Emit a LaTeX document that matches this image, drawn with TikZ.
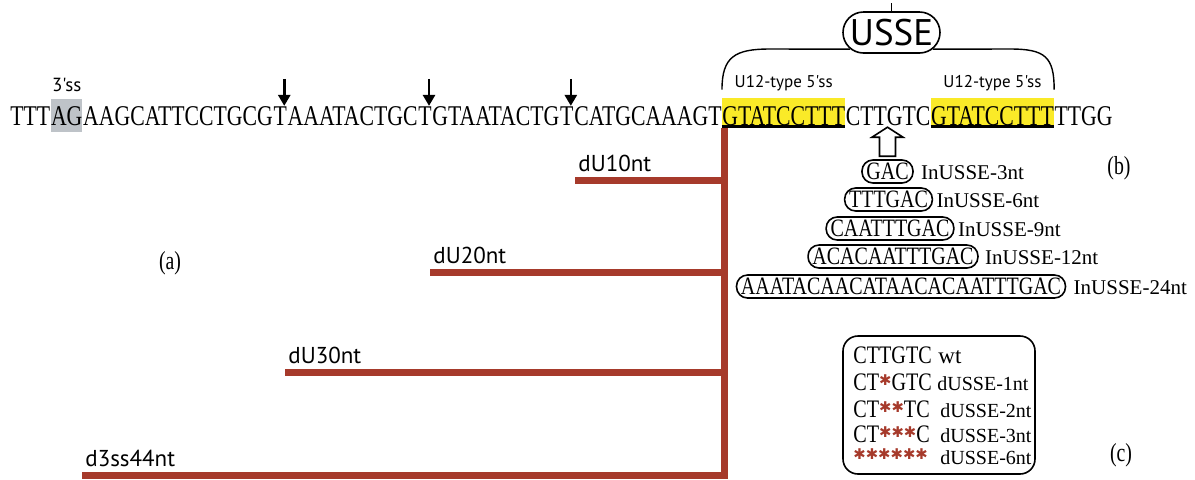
\documentclass[tikz,border=0pt]{standalone}
\usepackage{fontspec}
\usepackage{tikz}
\usetikzlibrary{positioning,arrows.meta,shapes.misc}
\setmainfont{Liberation Serif}
\newfontfamily\seqfont[FakeStretch=0.76]{Liberation Serif}
\newfontfamily\ovalfont[FakeStretch=0.8]{Liberation Serif}
\newfontfamily\labfont{PT Sans}
\newfontfamily\starfont{DejaVu Sans}
\definecolor{cutred}{RGB}{166,58,43}
\definecolor{hlyellow}{RGB}{250,234,40}
\definecolor{hlgray}{RGB}{190,195,200}
\newcommand{\mst}{{\color{cutred}\starfont\fontsize{7.4}{8}\selectfont\raisebox{2.2pt}{✱}}}

\begin{document}
\begin{tikzpicture}[x=0.5pt,y=-0.5pt]
\tikzstyle{seq}=[font=\seqfont\fontsize{14.3}{16}\selectfont,inner sep=0pt]
\tikzstyle{hl}=[seq,fill=hlyellow,text height=13.5pt,text depth=1.5pt]
\tikzstyle{ssl}=[font=\labfont\fontsize{8.5}{10}\selectfont,inner sep=0pt]
\tikzstyle{tick}=[line width=1.3pt,-{Triangle[width=6pt,length=5.5pt]}]
\tikzstyle{cut}=[cutred,line width=3.5pt]
\tikzstyle{dlab}=[font=\labfont\fontsize{11.5}{13}\selectfont,inner sep=0pt,anchor=base west]
\tikzstyle{ins}=[draw,rounded corners=5.5pt,line width=0.8pt,minimum height=11.5pt,inner xsep=2.2pt,inner ysep=0.5pt,font=\ovalfont\fontsize{12.5}{14}\selectfont]
\tikzstyle{inlab}=[font=\fontsize{10.5}{12}\selectfont,inner sep=0pt]
\tikzstyle{panel}=[font=\seqfont\fontsize{13}{15}\selectfont]
\tikzstyle{mrow}=[font=\ovalfont\fontsize{12.6}{15}\selectfont,inner sep=0pt,anchor=base west]
\tikzstyle{mlab}=[font=\fontsize{10}{12}\selectfont,inner sep=0pt,anchor=base west]

\useasboundingbox (0,0) rectangle (1195,479);

\node[seq,anchor=base west] (s1) at (10,125) {TTT};
\node[seq,fill=hlgray,text height=13pt,text depth=3.5pt,base right=0pt of s1] (ag) {AG};
\node[seq,base right=0pt of ag] (s2) {AAGCATTCCTGCG};
\node[seq,base right=0pt of s2] (t1) {T};
\node[seq,base right=0pt of t1] (s3) {AAATACTGC};
\node[seq,base right=0pt of s3] (t2) {T};
\node[seq,base right=0pt of t2] (s4) {GTAATACTG};
\node[seq,base right=0pt of s4] (t3) {T};
\node[seq,base right=0pt of t3] (s5) {CATGCAAAGT};
\node[hl,base right=0pt of s5] (y1) {GTATCCTTT};
\node[seq,base right=0pt of y1] (mid) {CTTGTC};
\node[hl,base right=0pt of mid] (y2) {GTATCCTTT};
\node[seq,base right=0pt of y2] (s6) {TTGG};

\draw[line width=1.2pt] ([yshift=1pt]y1.south west) -- ([yshift=1pt]y1.south east);
\draw[line width=1.2pt] ([yshift=1pt]y2.south west) -- ([yshift=1pt]y2.south east);

\node[font=\labfont\fontsize{9.5}{11}\selectfont,inner sep=0pt,above=3pt of ag] (ss3) {3'ss};
\node[ssl,above=3pt of y1] (u1) {U12-type 5'ss};
\node[ssl,above=3pt of y2] (u2) {U12-type 5'ss};

\foreach \t in {t1,t2,t3}
  \draw[tick] ([xshift=2pt,yshift=13.5pt]\t.north) -- ([xshift=2pt]\t.north);

\node[rounded rectangle,draw,line width=0.8pt,minimum width=48.5pt,minimum height=20.5pt,inner sep=0pt,font=\labfont\fontsize{18.5}{20}\selectfont] (usse) at (891.5,32.5) {USSE};
\draw[line width=0.7pt] (usse.north) -- ++(0,-8);
\draw[line width=0.7pt] ([yshift=4pt]y1.north west) .. controls +(0,-33) and (735,49) .. (770,49) -- (usse.202);
\draw[line width=0.7pt] (usse.-22) -- (1010,49) .. controls (1045,49) and +(0,-33) .. ([yshift=4pt]y2.north east);

\node[ins] (o3) at (887.5,171.5) {GAC};
\node[ins] (o6) at (888.5,199.5) {TTTGAC};
\node[ins] (o9) at (890,228.5) {CAATTTGAC};
\node[ins] (o12) at (893,256.5) {ACACAATTTGAC};
\node[ins] (o24) at (901,286.5) {AAATACAACATAACACAATTTGAC};

\node[inlab,base right=3.5pt of o3] (i3) {InUSSE-3nt};
\node[inlab,base right=1.5pt of o6] (i6) {InUSSE-6nt};
\node[inlab,base right=1.5pt of o9] (i9) {InUSSE-9nt};
\node[inlab,base right=3pt of o12] (i12) {InUSSE-12nt};
\node[inlab,base right=3.5pt of o24] (i24) {InUSSE-24nt};

\draw[line width=0.8pt,fill=white] ([xshift=-4pt,yshift=1.5pt]o3.north) -- ++(0,-19) -- ++(-7.5,0) -- ++(15.5,-10) -- ++(15.5,10) -- ++(-7.5,0) -- ++(0,19) -- cycle;

\node[panel] (pa) at (170,263) {(a)};
\node[panel] (pb) at (1119,168) {(b)};
\node[panel] (pc) at (1121,455) {(c)};

\coordinate (top) at (724,128);
\coordinate (bot) at (724,479);
\draw[cut] (top) -- (bot);
\foreach \n/\x/\y in {dU10nt/575/180,dU20nt/430/272,dU30nt/285/372,d3ss44nt/82/475.5} {
  \coordinate (\n) at (\x,\y);
  \draw[cut] (\n) -- (\n -| top);
  \node[dlab] (l-\n) at ([xshift=1.5pt,yshift=4.5pt]\n) {\n};
}

\node[draw,rounded corners=7.5pt,line width=0.8pt,minimum width=96pt,minimum height=69pt] (mbox) at (939,405) {};
\node[mrow] (r1) at (853,363) {CTTGTC};
\node[mlab,font=\fontsize{11.5}{13}\selectfont] (m1) at (938,363) {wt};
\node[mrow] (r2) at (853,390) {CT\mst GTC};
\node[mlab] (m2) at (937,390) {dUSSE-1nt};
\node[mrow] (r3) at (853,417) {CT\mst\mst TC};
\node[mlab] (m3) at (940,417) {dUSSE-2nt};
\node[mrow] (r4) at (853,442) {CT\mst\mst\mst C};
\node[mlab] (m4) at (940,442) {dUSSE-3nt};
\node[mrow] (r5) at (853,464) {\mst\mst\mst\mst\mst\mst};
\node[mlab] (m5) at (940,464) {dUSSE-6nt};

\end{tikzpicture}
\end{document}
